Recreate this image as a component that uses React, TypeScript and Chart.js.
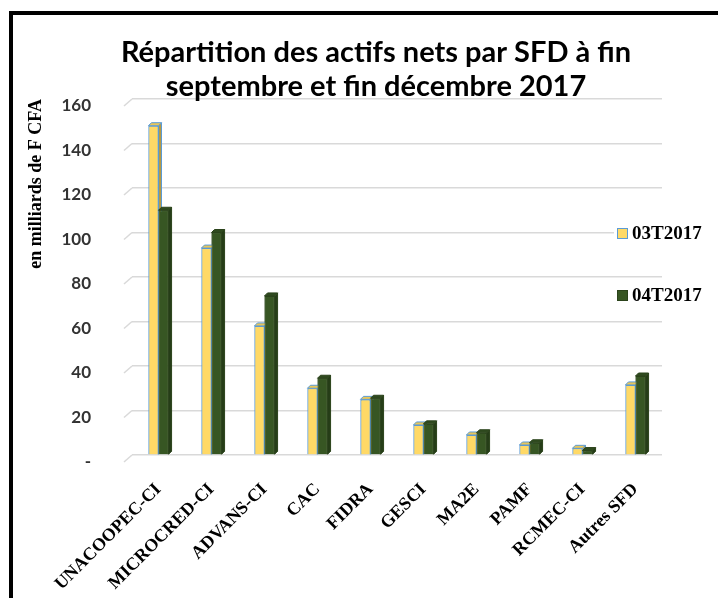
import React, { useEffect, useRef } from "react";
import { Chart, registerables } from "chart.js";

Chart.register(...registerables);

const categories = [
  "UNACOOPEC-CI",
  "MICROCRED-CI",
  "ADVANS-CI",
  "CAC",
  "FIDRA",
  "GESCI",
  "MA2E",
  "PAMF",
  "RCMEC-CI",
  "Autres SFD",
];
const seriesLabels = ["03T2017", "04T2017"];
const q3Values = [148, 93, 58, 30, 25, 13.5, 9, 4.5, 3, 31.5];
const q4Values = [110, 100, 71.5, 34.5, 25.5, 14, 10, 5.5, 2, 35.5];
const yMin = 0;
const yMax = 160;
const yStep = 20;
const zeroTickLabel = "-";
const titleLines = [
  "Répartition des actifs nets par SFD à fin",
  "septembre et fin décembre 2017",
];
const yAxisTitle = "en milliards de F CFA";

const FRONT = ["#FFD966", "#375623"];
const BORDER = ["#5B9BD5", "#2B431B"];
const SIDE = ["#B59A45", "#263D18"];
const TOP = ["#E8C65A", "#2F4A1F"];
const SERIF = "'Liberation Serif', 'Times New Roman', serif";

const bar3d = {
  id: "bar3d",
  afterDatasetsDraw(chart: any) {
    const ctx = chart.ctx;
    const d = 3;
    ctx.save();
    chart.data.datasets.forEach((_ds: any, i: number) => {
      const meta = chart.getDatasetMeta(i);
      meta.data.forEach((el: any) => {
        el.draw(ctx);
        const p = el.getProps(["x", "y", "base", "width"], true);
        const l = p.x - p.width / 2;
        const r = p.x + p.width / 2;
        ctx.lineWidth = 1;
        ctx.strokeStyle = BORDER[i];
        ctx.fillStyle = SIDE[i];
        ctx.beginPath();
        ctx.moveTo(r, p.y);
        ctx.lineTo(r + d, p.y - d);
        ctx.lineTo(r + d, p.base - d);
        ctx.lineTo(r, p.base);
        ctx.closePath();
        ctx.fill();
        ctx.stroke();
        ctx.fillStyle = TOP[i];
        ctx.beginPath();
        ctx.moveTo(l, p.y);
        ctx.lineTo(l + d, p.y - d);
        ctx.lineTo(r + d, p.y - d);
        ctx.lineTo(r, p.y);
        ctx.closePath();
        ctx.fill();
        ctx.stroke();
      });
    });
    ctx.restore();
  },
};

const slantGrid = {
  id: "slantGrid",
  beforeDatasetsDraw(chart: any) {
    const ys = chart.scales.y;
    const ctx = chart.ctx;
    const left = chart.chartArea.left;
    ctx.save();
    ctx.strokeStyle = "#D9D9D9";
    ctx.lineWidth = 1.5;
    ys.ticks.forEach((t: any) => {
      const y = ys.getPixelForValue(t.value);
      ctx.beginPath();
      ctx.moveTo(left - 8, y + 7);
      ctx.lineTo(left, y);
      ctx.stroke();
    });
    ctx.restore();
  },
};

const sideLegend = {
  id: "sideLegend",
  afterDraw(chart: any) {
    const ctx = chart.ctx;
    const area = chart.chartArea;
    ctx.save();
    chart.data.datasets.forEach((ds: any, i: number) => {
      const bx = area.right - 45;
      const by = area.top + 129 + i * 62;
      ctx.fillStyle = "#FFFFFF";
      ctx.fillRect(bx - 3, by - 7, chart.width - bx + 3, 25);
      ctx.fillStyle = FRONT[i];
      ctx.fillRect(bx, by, 11, 11);
      ctx.strokeStyle = BORDER[i];
      ctx.lineWidth = 1;
      ctx.strokeRect(bx + 0.5, by + 0.5, 10, 10);
      ctx.fillStyle = "#000000";
      ctx.font = "bold 19px " + SERIF;
      ctx.textAlign = "left";
      ctx.textBaseline = "middle";
      ctx.fillText(ds.label, bx + 15, by + 6);
    });
    ctx.restore();
  },
};

const twoLineTitle = {
  id: "twoLineTitle",
  afterDraw(chart: any) {
    const ctx = chart.ctx;
    const area = chart.chartArea;
    ctx.save();
    ctx.fillStyle = "#000000";
    ctx.font = "bold 29px Lato, 'Open Sans', sans-serif";
    ctx.textAlign = "center";
    ctx.textBaseline = "alphabetic";
    const cx = area.left + 244;
    titleLines.forEach((line, i) => {
      ctx.fillText(line, cx, area.top - 37 + i * 34);
    });
    ctx.restore();
  },
};

export default function App() {
  const ref = useRef<HTMLCanvasElement | null>(null);
  useEffect(() => {
    document.body.style.margin = "0";
    const canvas = ref.current;
    if (!canvas) return;
    const chart = new Chart(canvas, {
      type: "bar",
      data: {
        labels: categories,
        datasets: [
          {
            label: seriesLabels[0],
            data: q3Values,
            backgroundColor: FRONT[0],
            borderColor: BORDER[0],
            borderWidth: 1,
          },
          {
            label: seriesLabels[1],
            data: q4Values,
            backgroundColor: FRONT[1],
            borderColor: BORDER[1],
            borderWidth: 1,
          },
        ],
      },
      options: {
        animation: false,
        responsive: false,
        maintainAspectRatio: false,
        layout: { padding: { left: 10, right: 56, top: 84, bottom: 0 } },
        datasets: { bar: { categoryPercentage: 0.38, barPercentage: 1 } },
        plugins: {
          legend: { display: false },
          tooltip: { enabled: false },
          title: { display: false },
        },
        scales: {
          x: {
            grid: { display: false },
            border: { display: false },
            ticks: {
              autoSkip: false,
              maxRotation: 45,
              minRotation: 45,
              padding: 16,
              color: "#000000",
              font: { family: SERIF, weight: "bold", size: 18 },
            },
            afterFit: (s: any) => {
              s.height = 143;
            },
          },
          y: {
            min: yMin,
            max: yMax,
            ticks: {
              stepSize: yStep,
              padding: 41,
              labelOffset: 7,
              color: "#333333",
              font: { family: "Lato", weight: "bold", size: 17 },
              callback: (v: any) => (Number(v) === 0 ? zeroTickLabel : String(v)),
            },
            grid: { color: "#D9D9D9", lineWidth: 1.5, drawTicks: false },
            border: { display: false },
            title: {
              display: true,
              text: yAxisTitle,
              align: "end",
              color: "#000000",
              font: { family: SERIF, weight: "bold", size: 18 },
              padding: { top: 3, bottom: 10 },
            },
            afterFit: (s: any) => {
              s.width = 109;
            },
          },
        },
      },
      plugins: [slantGrid, bar3d, sideLegend, twoLineTitle],
    });
    return () => chart.destroy();
  }, []);

  return (
    <div style={{ position: "relative", width: 718, height: 598, background: "#FFFFFF", overflow: "hidden" }}>
      <div
        style={{
          position: "absolute",
          left: 9,
          top: 11,
          right: 0,
          bottom: 0,
          borderLeft: "4px solid #000000",
          borderTop: "4px solid #000000",
        }}
      />
      <canvas
        ref={ref}
        width={705}
        height={583}
        style={{ position: "absolute", left: 13, top: 15, width: 705, height: 583 }}
      />
    </div>
  );
}
